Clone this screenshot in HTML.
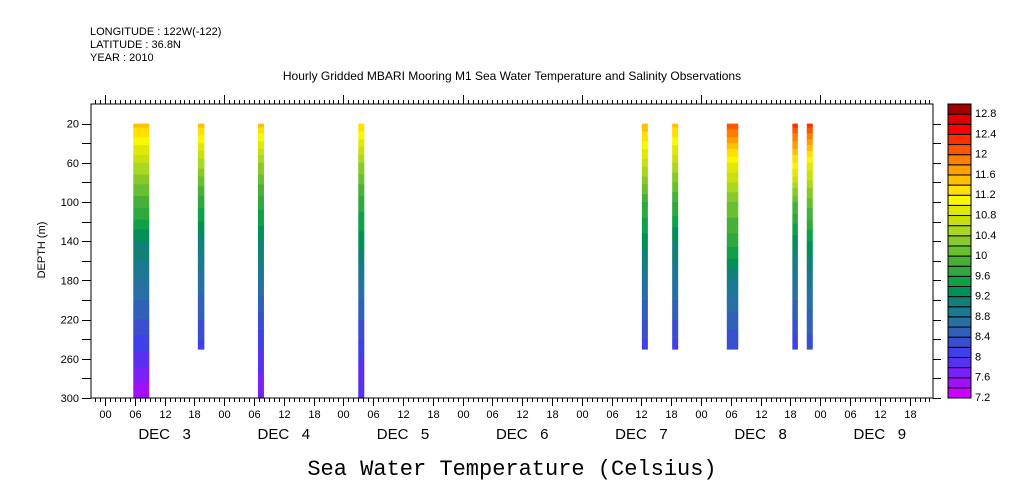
<!DOCTYPE html>
<html><head><meta charset="utf-8"><style>
html,body{margin:0;padding:0;background:#fff;}
svg{display:block;font-family:"Liberation Sans",sans-serif;}
</style></head><body>
<svg id="chart" width="1009" height="504" xmlns="http://www.w3.org/2000/svg">
<text x="90" y="35" font-size="11">LONGITUDE : 122W(-122)</text>
<text x="90" y="48" font-size="11">LATITUDE : 36.8N</text>
<text x="90" y="61" font-size="11">YEAR : 2010</text>
<text x="512" y="80" font-size="12" text-anchor="middle">Hourly Gridded MBARI Mooring M1 Sea Water Temperature and Salinity Observations</text>
<text transform="translate(45,250) rotate(-90)" font-size="11" text-anchor="middle">DEPTH (m)</text>
<text x="512" y="475" font-size="22" text-anchor="middle" font-family="Liberation Mono, monospace">Sea Water Temperature (Celsius)</text>
<g id="marks"></g>
<g id="axes"></g>
<g id="cbar"></g>
</svg>
<script>
const barStartHours=[5.7,18.7,30.8,51,108.1,114.2,125.2,138.4,141.3];
const barEndHours=[8.9,20,32,52.2,109.3,115.4,127.5,139.5,142.5];
const barMaxDepth=[300,250,300,300,250,250,250,250,250];
const profileDepths=[20,60,100,140,180,220,260,300];
const barTemps=[
 [11.5,10.6,9.9,9.2,8.8,8.4,7.9,7.4],
 [11.5,10.5,9.7,9.1,8.7,8.4,8.0,8.0],
 [11.5,10.4,9.7,9.2,8.8,8.3,7.9,7.6],
 [11.4,10.4,9.7,9.3,8.8,8.4,8.0,7.8],
 [11.6,10.7,9.8,9.3,8.8,8.4,8.0,8.0],
 [11.5,10.6,9.8,9.2,8.8,8.4,8.0,8.0],
 [12.2,11.0,10.2,9.7,9.0,8.5,8.1,8.1],
 [12.3,11.2,10.0,9.3,8.8,8.4,7.9,7.9],
 [12.3,11.0,10.1,9.4,8.9,8.5,8.2,8.2]
];
const levelMin=7.2, levelStep=0.2;
const levelColors=["#cc00ff","#a010f8","#7a20f8","#5a30f0","#4040e8","#3a4ed0","#3060b8","#2870a4","#1a7890","#108078","#009058","#10a048","#30a840","#48b038","#68c030","#88c828","#a8d820","#c8e010","#e0e808","#f8f800","#ffe000","#ffc000","#ffa000","#ff8000","#ff5800","#ff3000","#ff0000","#e00000","#a00000"];
const cbarLabels=[7.2,7.6,8,8.4,8.8,9.2,9.6,10,10.4,10.8,11.2,11.6,12,12.4,12.8];
const depthTicks=[20,60,100,140,180,220,260,300];
const dayLabels=["DEC\u00a0\u00a0\u00a03","DEC\u00a0\u00a0\u00a04","DEC\u00a0\u00a0\u00a05","DEC\u00a0\u00a0\u00a06","DEC\u00a0\u00a0\u00a07","DEC\u00a0\u00a0\u00a08","DEC\u00a0\u00a0\u00a09"];
const hourLabels=["00","06","12","18"];

const NS="http://www.w3.org/2000/svg";
const L=91,R=933,T=104,B=398;
const x=h=>105+h*119.2/24;
const y=d=>T+d*(B-T)/300;
function el(tag,attrs,parent,text){const e=document.createElementNS(NS,tag);for(const k in attrs)e.setAttribute(k,attrs[k]);if(text!==undefined)e.textContent=text;parent.appendChild(e);return e;}
function colorFor(t){let i=Math.floor((t-levelMin)/levelStep);i=Math.max(0,Math.min(levelColors.length-1,i));return levelColors[i];}
function interp(arr,d){for(let i=0;i<profileDepths.length-1;i++){if(d<=profileDepths[i+1]){const f=(d-profileDepths[i])/(profileDepths[i+1]-profileDepths[i]);return arr[i]+f*(arr[i+1]-arr[i]);}}return arr[arr.length-1];}

const marks=document.getElementById('marks');
barStartHours.forEach((s,i)=>{
 const g=el('g',{},marks);
 
 
 for(let d=20;d<barMaxDepth[i];d+=2){
  el('rect',{x:x(s),y:y(d),width:x(barEndHours[i])-x(s),height:y(d+2)-y(d)+0.6,fill:colorFor(interp(barTemps[i],d+1))},g);
 }
});

const ax=document.getElementById('axes');
const frame=el('rect',{x:L,y:T,width:R-L,height:B-T,fill:'none',stroke:'#000','stroke-width':1},ax);


for(let h=-3;h<=167;h++){
 const xx=Math.round(x(h))+0.5; if(xx<L||xx>R)continue;
 const day=((h%24)+24)%24===0, six=((h%6)+6)%6===0;
 el('line',{x1:xx,x2:xx,y1:T,y2:T-(day?9:4),stroke:'#000'},ax);
 el('line',{x1:xx,x2:xx,y1:B,y2:B+(six?8:4),stroke:'#000'},ax);
 if(six){const t=el('text',{x:xx,y:418,'font-size':11,'text-anchor':'middle'},ax,hourLabels[(((h/6)%4)+4)%4]);
  
  }
}
dayLabels.forEach((lab,i)=>{const t=el('text',{x:x(i*24+12),y:439,'font-size':15,'text-anchor':'middle'},ax,lab);
 
 });
for(let d=20;d<=300;d+=20){const yy=Math.round(y(d))+0.5;
 el('line',{x1:L-9,x2:L,y1:yy,y2:yy,stroke:'#000'},ax);
 el('line',{x1:R,x2:R+8,y1:yy,y2:yy,stroke:'#000'},ax);}
depthTicks.forEach(d=>{const t=el('text',{x:79,y:y(d)+4,'font-size':11,'text-anchor':'end'},ax,String(d));
 
 });

const cb=document.getElementById('cbar');


const cx=948,cw=23,ch=(B-T)/levelColors.length;
levelColors.forEach((c,i)=>{el('rect',{x:cx,y:B-(i+1)*ch,width:cw,height:ch,fill:c,stroke:'#000','stroke-width':1},cb);});
cbarLabels.forEach(v=>{const yy=B-(v-levelMin)/levelStep*ch;
 const t=el('text',{x:975,y:yy+3,'font-size':11},cb,String(v));
 
 });
</script>
</body></html>
